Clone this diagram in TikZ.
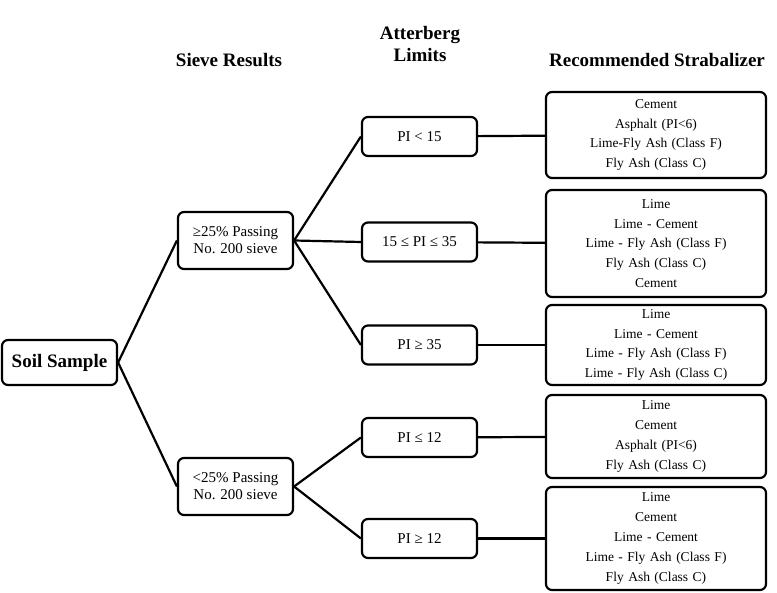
\documentclass[tikz,border=0pt]{standalone}
\usepackage{fontspec}
\setmainfont{Liberation Serif}
\begin{document}
\begin{tikzpicture}[x=1pt, y=-1pt,
  box/.style={draw, line width=2.2pt, rounded corners=6pt, align=center, inner sep=2pt, font=\fontsize{15}{17}\selectfont},
  pibox/.style={box, minimum width=115pt, minimum height=39pt},
  sievebox/.style={box, minimum width=115pt, minimum height=57pt},
  stabbox/.style={box, text width=214pt, inner sep=3pt, font=\fontsize{13.5}{19.8}\selectfont},
  head/.style={font=\fontsize{19}{22}\selectfont\bfseries, align=center},
  link/.style={line width=2.2pt}]
  \useasboundingbox (0,0) rectangle (777,593);
  % column headings
  \node[head] (hsieve) at (229,60) {Sieve Results};
  \node[head] (hatt) at (420,44) {Atterberg\\Limits};
  \node[head] (hstab) at (657,60) {Recommended Strabalizer};
  % soil sample and sieve results
  \node[box, minimum width=115pt, minimum height=45pt, font=\fontsize{19}{20}\selectfont\bfseries] (soil) at (59.5,362.5) {Soil Sample};
  \node[sievebox] (fine) at (235.5,240.5) {≥25\% Passing\\No. 200 sieve};
  \node[sievebox] (coarse) at (235.5,486.5) {<25\% Passing\\No. 200 sieve};
  % atterberg limits
  \node[pibox] (pia) at (419.5,136.5) {PI < 15};
  \node[pibox] (pib) at (419.5,242) {15 ≤ PI ≤ 35};
  \node[pibox] (pic) at (419.5,345) {PI ≥ 35};
  \node[pibox] (pid) at (419.5,437.5) {PI ≤ 12};
  \node[pibox] (pie) at (419.5,538.5) {PI ≥ 12};
  % recommended stabilizers
  \node[stabbox, minimum height=86pt] (sa) at (656,135) {Cement\\Asphalt (PI<6)\\Lime-Fly Ash (Class F)\\Fly Ash (Class C)};
  \node[stabbox, minimum height=107pt] (sb) at (656,243.5) {Lime\\Lime - Cement\\Lime - Fly Ash (Class F)\\Fly Ash (Class C)\\Cement};
  \node[stabbox, minimum height=80pt] (sc) at (656,345) {Lime\\Lime - Cement\\Lime - Fly Ash (Class F)\\Lime - Fly Ash (Class C)};
  \node[stabbox, minimum height=83pt] (sd) at (656,436.5) {Lime\\Cement\\Asphalt (PI<6)\\Fly Ash (Class C)};
  \node[stabbox, minimum height=103pt] (se) at (656,538.5) {Lime\\Cement\\Lime - Cement\\Lime - Fly Ash (Class F)\\Fly Ash (Class C)};
  % connectors
  \draw[link] (soil.east) -- (fine.west);
  \draw[link] (soil.east) -- (coarse.west);
  \draw[link] (fine.east) -- (pia.west);
  \draw[link] (fine.east) -- (pib.west);
  \draw[link] (fine.east) -- (pic.west);
  \draw[link] (coarse.east) -- (pid.west);
  \draw[link] (coarse.east) -- (pie.west);
  \draw[link] (pia) -- (sa);
  \draw[link] (pib) -- (sb);
  \draw[link] (pic) -- (sc);
  \draw[link] (pid) -- (sd);
  \draw[link] (pie) -- (se);
\end{tikzpicture}
\end{document}
